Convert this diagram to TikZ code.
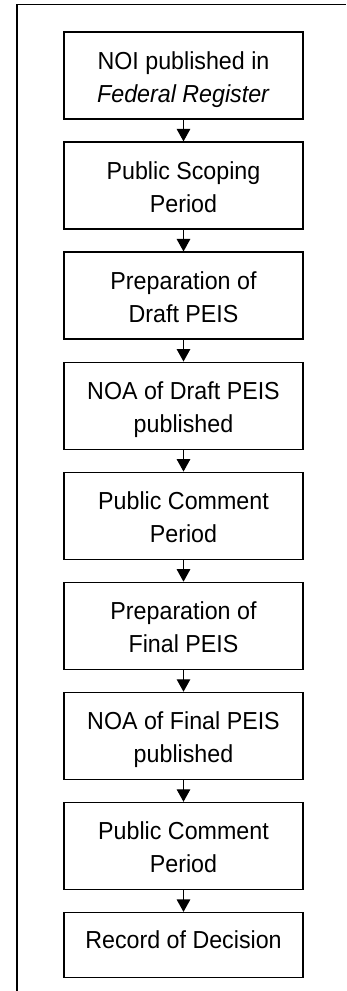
\documentclass[tikz,border=0pt]{standalone}
\usepackage{fontspec}
\setmainfont{Liberation Sans}[FakeStretch=0.945]
\usepackage{tikz}
\usetikzlibrary{arrows.meta, positioning}

\begin{document}
\begin{tikzpicture}[
    box/.style={draw, line width=0.75pt, align=center,
                minimum width=4.78cm, minimum height=1.74cm,
                text height=1.18cm, text depth=0.1cm,
                inner sep=0pt, font=\fontsize{14}{18.8}\selectfont},
    flow/.style={line width=0.75pt, -{Triangle[width=0.27cm, length=0.25cm]}},
    node distance=0.435cm,
]
    \useasboundingbox (0,0) rectangle (6.92,-19.82);
    \draw[line width=1pt] (0.34,-19.82) |- (6.92,-0.09);

    \node[box] (noi) at (3.67,-1.51) {NOI published in\\\textit{Federal Register}};
    \node[box, below=of noi] (scoping) {Public Scoping\\Period};
    \node[box, below=of scoping] (draft) {Preparation of\\Draft PEIS};
    \node[box, below=of draft] (noadraft) {NOA of Draft PEIS\\published};
    \node[box, below=of noadraft] (comment1) {Public Comment\\Period};
    \node[box, below=of comment1] (final) {Preparation of\\Final PEIS};
    \node[box, below=of final] (noafinal) {NOA of Final PEIS\\published};
    \node[box, below=of noafinal] (comment2) {Public Comment\\Period};
    \node[box, below=of comment2, minimum height=1.3cm,
          text height=0.36cm, text depth=0.22cm] (rod) {Record of Decision};

    \draw[flow] (noi) -- (scoping);
    \draw[flow] (scoping) -- (draft);
    \draw[flow] (draft) -- (noadraft);
    \draw[flow] (noadraft) -- (comment1);
    \draw[flow] (comment1) -- (final);
    \draw[flow] (final) -- (noafinal);
    \draw[flow] (noafinal) -- (comment2);
    \draw[flow] (comment2) -- (rod);
\end{tikzpicture}
\end{document}
